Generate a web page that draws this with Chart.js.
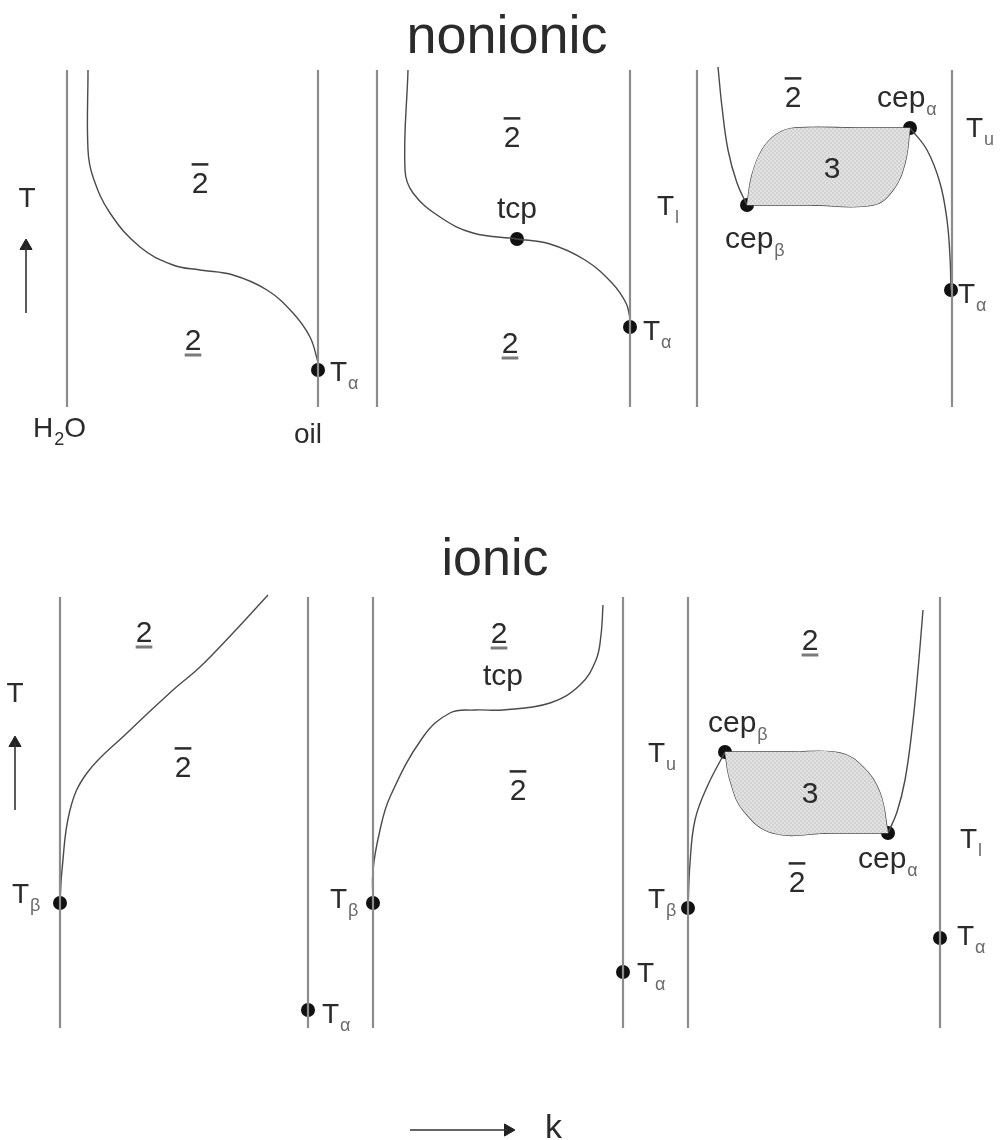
<!DOCTYPE html>
<html>
<head>
<meta charset="utf-8">
<title>Phase behaviour, nonionic and ionic</title>
<script src="https://cdn.jsdelivr.net/npm/chart.js@4"></script>
<style>
  body { margin: 0; background: #fff; }
  canvas { display: block; }
</style>
</head>
<body>
<canvas id="phaseChart" width="1000" height="1140"></canvas>
<script>
const ctx = document.getElementById('phaseChart');

// vertical phase walls: [x, top, bottom]
const walls = [
  [67, 70, 407], [318, 70, 407], [377, 70, 407], [630, 70, 407], [697, 70, 407], [952, 70, 407],
  [60, 597, 1028], [308, 597, 1028], [373, 597, 1028], [623, 597, 1028], [688, 597, 1028], [940, 597, 1028]
];

// coexistence curves, nonionic row
const nonionicLeft = [[88, 70], [88, 150], [93, 177], [110, 213], [140, 247], [173, 265], [200, 270], [233, 275], [267, 290], [293, 313], [310, 337], [318, 362]];
const nonionicMid = [[408, 70], [405, 170], [413, 193], [440, 217], [473, 233], [517, 239], [550, 244], [585, 260], [612, 283], [626, 303], [630, 318]];
const nonionicRightA = [[718, 67], [722, 107], [728, 150], [737, 183], [747, 205]];
const nonionicTop3 = [[747, 205], [752, 175], [762, 150], [777, 134], [795, 128], [860, 128], [910, 128]];
const nonionicBottom3 = [[747, 205], [810, 205], [873, 205], [893, 190], [905, 163], [910, 128]];
const nonionicRightB = [[910, 128], [927, 150], [940, 183], [947, 220], [950, 257], [951, 290]];

// coexistence curves, ionic row
const ionicLeft = [[60, 903], [62, 870], [70, 810], [87, 773], [127, 733], [173, 690], [200, 667], [233, 633], [268, 595]];
const ionicMid = [[373, 903], [373, 870], [380, 830], [390, 797], [423, 737], [450, 713], [475, 710], [503, 710], [550, 703], [580, 685], [596, 660], [601, 635], [603, 605]];
const ionicRightA = [[688, 908], [690, 863], [695, 820], [707, 787], [725, 752]];
const ionicTop3 = [[725, 752], [790, 752], [840, 753], [863, 767], [880, 793], [888, 833]];
const ionicBottom3 = [[725, 752], [730, 780], [743, 810], [773, 833], [830, 833], [888, 833]];
const ionicRightB = [[888, 833], [897, 812], [905, 780], [912, 730], [918, 670], [923, 610]];

// special points (T_alpha, T_beta, tcp, cep)
const criticalPoints = [
  [318, 370], [517, 239], [630, 327], [747, 205], [910, 128], [951, 290],
  [60, 903], [308, 1010], [373, 903], [623, 972], [688, 908], [725, 752], [888, 833], [940, 938]
];

// axis arrows: [x1, y1, x2, y2, headRotation]
const arrows = [
  [26, 313, 26, 246, 0],
  [15, 810, 15, 743, 0],
  [410, 1130, 508, 1130, 90]
];

// text: [text, x, baseline, size, align, subscript, bar, tail]
const labelRows = [
  ['nonionic', 507, 53, 54, 'center'],
  ['ionic', 495, 575, 52, 'center'],
  ['T', 27, 207, 28, 'center'],
  ['2', 200, 193, 30, 'center', '', 'over'],
  ['2', 193, 350, 30, 'center', '', 'under'],
  ['T', 330, 381, 28, 'left', 'α'],
  ['H', 33, 437, 28, 'left', '2', '', 'O'],
  ['oil', 294, 443, 28, 'left'],
  ['2', 512, 147, 30, 'center', '', 'over'],
  ['tcp', 517, 218, 30, 'center'],
  ['T', 657, 215, 28, 'left', 'l'],
  ['2', 510, 353, 30, 'center', '', 'under'],
  ['T', 643, 340, 28, 'left', 'α'],
  ['2', 793, 107, 30, 'center', '', 'over'],
  ['cep', 877, 107, 30, 'left', 'α'],
  ['T', 966, 137, 28, 'left', 'u'],
  ['3', 832, 178, 30, 'center'],
  ['cep', 725, 248, 30, 'left', 'β'],
  ['T', 958, 303, 28, 'left', 'α'],
  ['T', 15, 702, 28, 'center'],
  ['2', 144, 642, 30, 'center', '', 'under'],
  ['2', 183, 777, 30, 'center', '', 'over'],
  ['T', 12, 903, 28, 'left', 'β'],
  ['2', 499, 643, 30, 'center', '', 'under'],
  ['tcp', 503, 685, 30, 'center'],
  ['2', 518, 800, 30, 'center', '', 'over'],
  ['T', 330, 908, 28, 'left', 'β'],
  ['T', 322, 1023, 28, 'left', 'α'],
  ['2', 810, 650, 30, 'center', '', 'under'],
  ['cep', 708, 732, 30, 'left', 'β'],
  ['T', 648, 762, 28, 'left', 'u'],
  ['3', 810, 803, 30, 'center'],
  ['2', 797, 892, 30, 'center', '', 'over'],
  ['cep', 858, 868, 30, 'left', 'α'],
  ['T', 960, 848, 28, 'left', 'l'],
  ['T', 648, 908, 28, 'left', 'β'],
  ['T', 637, 982, 28, 'left', 'α'],
  ['T', 957, 945, 28, 'left', 'α'],
  ['k', 545, 1138, 34, 'left']
];

const FONT = '"Liberation Sans", Arial, sans-serif';
const toXY = pts => pts.map(([x, y]) => ({ x, y }));

// fine grey checker used inside the three-phase bodies
function checker() {
  const c = document.createElement('canvas');
  c.width = 4; c.height = 4;
  const g = c.getContext('2d');
  g.fillStyle = '#e2e2e2'; g.fillRect(0, 0, 4, 4);
  g.fillStyle = '#d2d2d2'; g.fillRect(0, 0, 2, 2); g.fillRect(2, 2, 2, 2);
  return g.createPattern(c, 'repeat');
}

function curve(points, color, width, tension) {
  return {
    data: toXY(points), showLine: true, fill: false,
    borderColor: color, borderWidth: width, pointRadius: 0, tension: tension
  };
}

function threePhase(top, bottom) {
  return {
    data: toXY(top.concat(bottom.slice().reverse())), showLine: true,
    fill: 'shape', backgroundColor: checker(), borderWidth: 0, pointRadius: 0, tension: 0.4
  };
}

const datasets = [];
datasets.push(threePhase(nonionicTop3, nonionicBottom3));
datasets.push(threePhase(ionicTop3, ionicBottom3));
walls.forEach(([x, y1, y2]) => datasets.push(curve([[x, y1], [x, y2]], '#8c8c8c', 2.2, 0)));
[nonionicLeft, nonionicMid, nonionicRightA, nonionicTop3, nonionicBottom3, nonionicRightB,
 ionicLeft, ionicMid, ionicRightA, ionicTop3, ionicBottom3, ionicRightB]
  .forEach(c => datasets.push(curve(c, '#4a4a4a', 1.4, 0.4)));
arrows.forEach(([x1, y1, x2, y2, rot]) => {
  datasets.push(curve([[x1, y1], [x2, y2]], '#333', 1.6, 0));
  datasets.push({
    data: [{ x: x2, y: y2 }], showLine: false, pointStyle: 'triangle', pointRotation: rot,
    pointRadius: 7, backgroundColor: '#222', borderColor: '#222', borderWidth: 1
  });
});
datasets.push({
  data: toXY(criticalPoints), showLine: false, pointRadius: 7,
  backgroundColor: '#111', borderColor: '#111', borderWidth: 0
});

// draws the labels, subscripts and bars over the plot
const labelPlugin = {
  id: 'phaseLabels',
  afterDatasetsDraw(chart) {
    const g = chart.ctx;
    const sx = chart.scales.x, sy = chart.scales.y;
    g.save();
    g.textBaseline = 'alphabetic';
    labelRows.forEach(([text, x, y, size, align, sub, bar, tail]) => {
      g.font = size + 'px ' + FONT;
      const w = g.measureText(text).width;
      let px = sx.getPixelForValue(x);
      const py = sy.getPixelForValue(y);
      if (align === 'center') px -= w / 2;
      g.fillStyle = '#2b2b2b';
      g.fillText(text, px, py);
      let end = px + w;
      if (sub) {
        g.font = '18px ' + FONT;
        g.fillStyle = sub === '2' ? '#2b2b2b' : '#6a6a6a';
        g.fillText(sub, end + 1, py + 8);
        end += g.measureText(sub).width + 1;
      }
      if (tail) {
        g.font = size + 'px ' + FONT;
        g.fillStyle = '#2b2b2b';
        g.fillText(tail, end, py);
      }
      if (bar === 'over') {
        g.strokeStyle = '#2b2b2b'; g.lineWidth = 2.5;
        g.beginPath(); g.moveTo(px, py - size * 0.72 - 7); g.lineTo(px + w, py - size * 0.72 - 7); g.stroke();
      } else if (bar === 'under') {
        g.strokeStyle = '#7a7a7a'; g.lineWidth = 3;
        g.beginPath(); g.moveTo(px, py + 5); g.lineTo(px + w, py + 5); g.stroke();
      }
    });
    g.restore();
  }
};

new Chart(ctx, {
  type: 'scatter',
  data: { datasets: datasets },
  options: {
    responsive: false,
    animation: false,
    layout: { autoPadding: false, padding: 0 },
    plugins: { legend: { display: false }, tooltip: { enabled: false } },
    scales: {
      x: { type: 'linear', min: 0, max: 1000, display: false },
      y: { type: 'linear', min: 0, max: 1140, reverse: true, display: false }
    }
  },
  plugins: [labelPlugin]
});
</script>
</body>
</html>
